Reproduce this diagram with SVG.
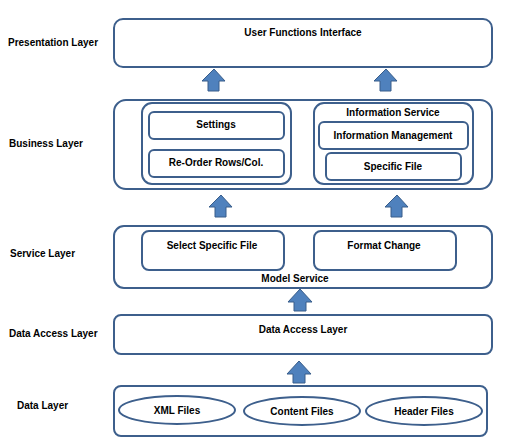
<svg xmlns="http://www.w3.org/2000/svg" width="505" height="447" viewBox="0 0 505 447">
<style>
.b{fill:#fff;stroke:#3d5f8c;stroke-width:2}
.a{fill:#4f81bd;stroke:#385d8a;stroke-width:1}
text{font-family:"Liberation Sans",Arial,sans-serif;font-size:10px;font-weight:bold;fill:#000}
.c{text-anchor:middle}
</style>
<rect width="505" height="447" fill="#fff"/>
<g id="labels">
<text x="8" y="46">Presentation  Layer</text>
<text x="9" y="147">Business Layer</text>
<text x="10" y="257">Service Layer</text>
<text x="9" y="337">Data Access Layer</text>
<text x="17" y="409">Data Layer</text>
</g>
<g id="presentation">
<rect class="b" x="114" y="19" width="378" height="48" rx="9"/>
<text class="c" x="303" y="36">User Functions Interface</text>
</g>
<g id="business">
<rect class="b" x="114" y="100" width="378" height="89" rx="12"/>
<g id="left-group">
<rect class="b" x="142" y="103" width="149" height="81" rx="10"/>
<g id="settings"><rect class="b" x="149" y="112" width="135" height="27" rx="5"/><text class="c" x="216" y="128">Settings</text></g>
<g id="reorder"><rect class="b" x="149" y="150" width="135" height="27" rx="5"/><text class="c" x="216" y="166">Re-Order Rows/Col.</text></g>
</g>
<g id="info-service">
<rect class="b" x="314" y="103" width="159" height="81" rx="10"/>
<text class="c" x="393" y="116">Information  Service</text>
<g id="info-mgmt"><rect class="b" x="319" y="122" width="149" height="27" rx="5"/><text class="c" x="393" y="139">Information  Management</text></g>
<g id="specific-file"><rect class="b" x="326" y="153" width="135" height="27" rx="5"/><text class="c" x="393" y="170">Specific File</text></g>
</g>
</g>
<g id="service">
<rect class="b" x="114" y="226" width="378" height="62" rx="10"/>
<g id="select-file"><rect class="b" x="142" y="231" width="142" height="39" rx="7"/><text class="c" x="212" y="249">Select Specific File</text></g>
<g id="format-change"><rect class="b" x="314" y="231" width="142" height="39" rx="7"/><text class="c" x="384" y="249">Format Change</text></g>
<text class="c" x="295" y="282">Model Service</text>
</g>
<g id="data-access">
<rect class="b" x="114" y="315" width="378" height="39" rx="7"/>
<text class="c" x="303" y="333">Data Access Layer</text>
</g>
<g id="data">
<rect class="b" x="114" y="386" width="373" height="50" rx="7"/>
<g id="xml"><ellipse class="b" cx="177" cy="410" rx="58" ry="14"/><text class="c" x="177" y="414">XML Files</text></g>
<g id="content"><ellipse class="b" cx="302" cy="411" rx="58" ry="14"/><text class="c" x="302" y="415">Content  Files</text></g>
<g id="header"><ellipse class="b" cx="424" cy="411" rx="58" ry="14"/><text class="c" x="424" y="415">Header Files</text></g>
</g>
<g id="connectors">
<path class="a" d="M214 69 L225 81 L219 81 L219 91 L208 91 L208 81 L202 81 Z"/>
<path class="a" d="M386 69 L397 81 L391 81 L391 91 L380 91 L380 81 L374 81 Z"/>
<path class="a" d="M221 195 L232 207 L226 207 L226 217 L215 217 L215 207 L209 207 Z"/>
<path class="a" d="M397 195 L408 207 L402 207 L402 217 L391 217 L391 207 L385 207 Z"/>
<path class="a" d="M300 289 L312 302 L306 302 L306 311 L294 311 L294 302 L288 302 Z"/>
<path class="a" d="M299 361 L311 374 L305 374 L305 383 L293 383 L293 374 L287 374 Z"/>
</g>
</svg>
